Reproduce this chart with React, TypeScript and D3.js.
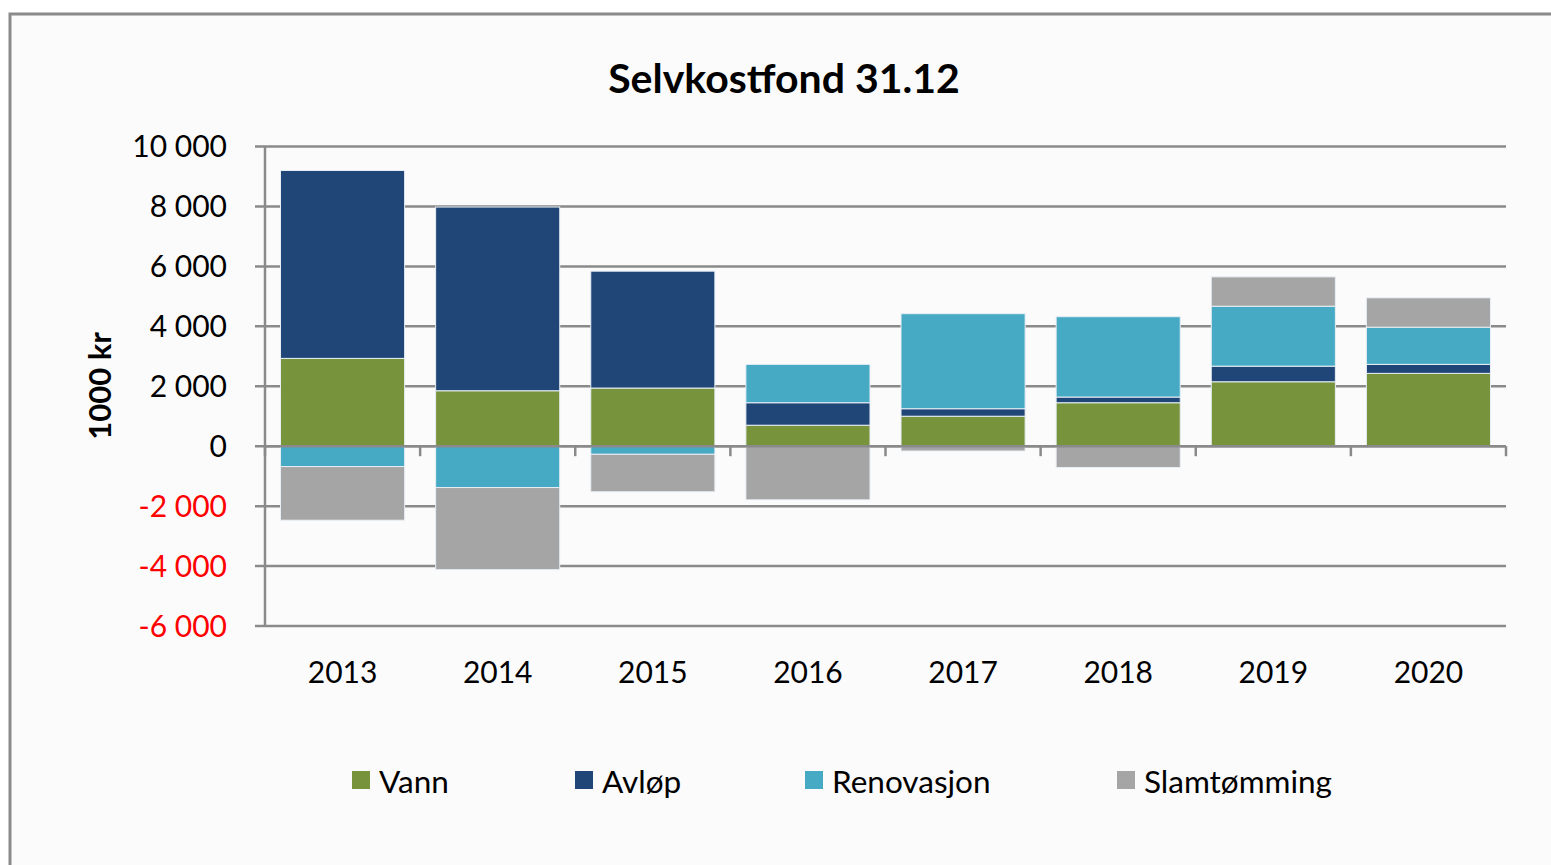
import React from "react";
import * as d3 from "d3";

// Selvkostfond 31.12 (1000 kr)
const years = ["2013", "2014", "2015", "2016", "2017", "2018", "2019", "2020"];
const seriesNames = ["Vann", "Avløp", "Renovasjon", "Slamtømming"];
const vann = [2930, 1850, 1940, 700, 1000, 1450, 2150, 2430];
const avlop = [6270, 6130, 3900, 750, 250, 190, 520, 300];
const renovasjon = [-680, -1380, -270, 1280, 3170, 2680, 2000, 1240];
const slamtomming = [-1790, -2740, -1250, -1790, -160, -710, 980, 980];
const yTicks = [10000, 8000, 6000, 4000, 2000, 0, -2000, -4000, -6000];
const colors = ["#77933C", "#1F4677", "#46AAC4", "#A5A5A5"];

const font = "Lato, 'Open Sans', sans-serif";

export default function App() {
  const rows = years.map((yr, i) => ({
    year: yr,
    Vann: vann[i],
    "Avløp": avlop[i],
    Renovasjon: renovasjon[i],
    "Slamtømming": slamtomming[i],
  }));

  const stack = d3.stack<any>().keys(seriesNames).offset(d3.stackOffsetDiverging);
  const series = stack(rows);

  const x = d3.scaleBand().domain(years).range([265, 1506]).paddingInner(0.2).paddingOuter(0.1);
  const y = d3.scaleLinear().domain([-6000, 10000]).range([626, 146.5]);
  const fmt = (v: number) => d3.format(",")(v).replace(/,/g, " ").replace("−", "-");

  const legendX = [352, 575, 805, 1117];

  return (
    <svg width={1551} height={865} style={{ position: "absolute", left: 0, top: 0 }}>
      <rect x={0} y={0} width={1551} height={865} fill="#fff" />
      <rect x={10} y={14} width={1560} height={880} fill="#fbfbfb" stroke="#8a8a8a" strokeWidth={3} />

      <text x={784} y={93} textAnchor="middle" fontFamily={font} fontWeight="bold" fontSize={41} fill="#000">
        Selvkostfond 31.12
      </text>

      {/* gridlines + y ticks */}
      {yTicks.map((t) => (
        <g key={t}>
          <line x1={255} x2={1506} y1={y(t)} y2={y(t)} stroke="#8a8a8a" strokeWidth={2.5} />
          <text x={227} y={y(t)} dy="0.36em" textAnchor="end" fontFamily={font} fontSize={30}
            fill={t < 0 ? "#FF0000" : "#000"}>
            {fmt(t)}
          </text>
        </g>
      ))}
      <line x1={265} x2={265} y1={y(10000)} y2={y(-6000)} stroke="#8a8a8a" strokeWidth={2.5} />

      <text transform={`translate(111,386) rotate(-90)`} textAnchor="middle" fontFamily={font}
        fontWeight="bold" fontSize={31} fill="#000">
        1000 kr
      </text>

      {/* bars */}
      {series.map((s, si) => (
        <g key={s.key} fill={colors[si]}>
          {s.map((d, i) => {
            const y0 = y(Math.max(d[0], d[1]));
            const y1 = y(Math.min(d[0], d[1]));
            if (y1 - y0 < 0.5) return null;
            return (
              <rect key={i} x={x(years[i])} y={y0} width={x.bandwidth()} height={y1 - y0}
                stroke="#e8eef5" strokeWidth={1} />
            );
          })}
        </g>
      ))}

      {/* x axis at zero */}
      <line x1={265} x2={1506} y1={y(0)} y2={y(0)} stroke="#8a8a8a" strokeWidth={2.5} />
      {d3.range(years.length + 1).map((i) => {
        const xx = 265 + i * x.step();
        return <line key={i} x1={xx} x2={xx} y1={y(0)} y2={y(0) + 10} stroke="#8a8a8a" strokeWidth={2.5} />;
      })}
      {years.map((yr) => (
        <text key={yr} x={(x(yr) as number) + x.bandwidth() / 2} y={683} textAnchor="middle"
          fontFamily={font} fontSize={30} fill="#000">
          {yr}
        </text>
      ))}

      {/* legend */}
      {seriesNames.map((n, i) => (
        <g key={n}>
          <rect x={legendX[i]} y={771} width={18} height={18} fill={colors[i]} />
          <text x={legendX[i] + 27} y={793} fontFamily={font} fontSize={31.5} fill="#000">
            {n}
          </text>
        </g>
      ))}
    </svg>
  );
}
